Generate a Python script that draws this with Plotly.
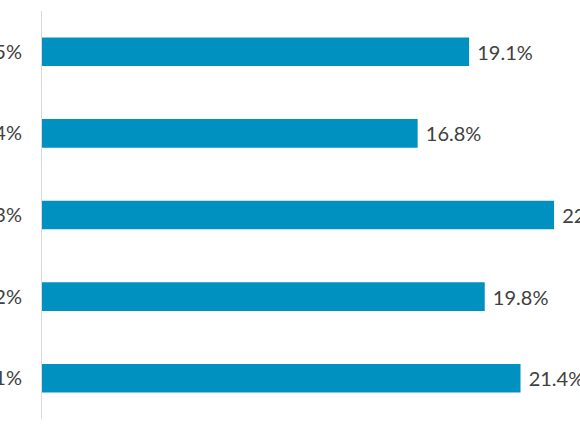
"""Horizontal bar chart of shares, cropped view."""

import plotly.graph_objects as go

# Categories top to bottom (only the tail of each label is visible in the crop)
categories = ["Top 5%", "Top 4%", "Top 3%", "Top 2%", "Top 1%"]
values = [19.1, 16.8, 22.9, 19.8, 21.4]
value_labels = [f" {v:.1f}%" for v in values]

BAR_COLOR = "#0091C1"
TEXT_COLOR = "#404040"
FONT = "Lato, 'Open Sans', sans-serif"

fig = go.Figure(
    go.Bar(
        x=values,
        y=categories,
        orientation="h",
        marker_color=BAR_COLOR,
        marker_line_width=0,
        text=value_labels,
        textposition="outside",
        textfont=dict(family=FONT, size=20, color=TEXT_COLOR),
        constraintext="none",
        cliponaxis=False,
        hoverinfo="skip",
    )
)

fig.update_layout(
    width=580,
    height=435,
    margin=dict(l=42, r=0, t=11, b=16),
    paper_bgcolor="white",
    plot_bgcolor="white",
    bargap=0.65,
    showlegend=False,
    font=dict(family=FONT, size=20, color=TEXT_COLOR),
)

fig.update_xaxes(
    range=[0, 24.06],
    showgrid=False,
    zeroline=False,
    showticklabels=False,
    showline=False,
    automargin=False,
)

fig.update_yaxes(
    autorange="reversed",
    showgrid=False,
    zeroline=False,
    showline=True,
    linecolor="#D9D9D9",
    linewidth=1,
    ticks="",
    ticklabelstandoff=15,
    tickfont=dict(family=FONT, size=20, color=TEXT_COLOR),
    automargin=False,
)

# drop the browser's default body margin so the chart sits at the window corner
fig.write_html(
    "out.html",
    config={"displayModeBar": False},
    post_script="document.body.style.margin = '0'; document.body.style.overflow = 'hidden';",
)
